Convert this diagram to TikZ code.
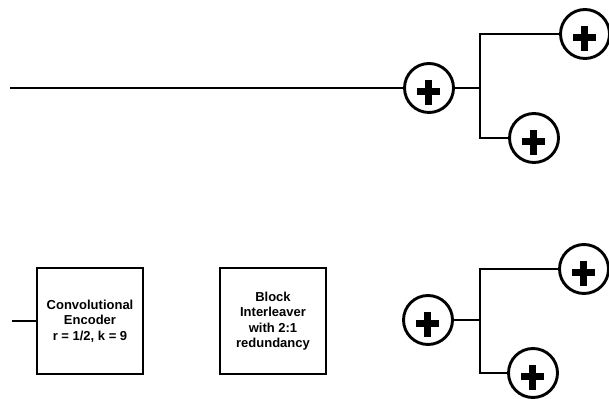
\documentclass[tikz,border=0pt]{standalone}
\usepackage{fontspec}
\setmainfont{Liberation Sans}
\begin{document}
\begin{tikzpicture}[x=1pt,y=1pt,
  wire/.style={line width=2.9pt},
  adder/.style={circle, draw, line width=2.9pt, minimum size=49pt, inner sep=0pt,
    path picture={
      \fill ([xshift=-12.5pt,yshift=-7.5pt]path picture bounding box.center) rectangle ++(23,7);
      \fill ([xshift=-4.5pt,yshift=-17pt]path picture bounding box.center) rectangle ++(7,25);
    }},
  block/.style={draw, line width=2.9pt, minimum width=106pt, minimum height=106pt, inner sep=0pt,
    align=center, font=\bfseries\fontsize{13}{15.3}\selectfont}
]
\useasboundingbox (0,0) rectangle (609,398);
% top group
\coordinate (in1) at (10,310);
\node[adder] (A) at (429,310) {};
\coordinate (J1) at (480,310);
\node[adder] (B) at (585,364) {};
\node[adder] (C) at (534,260) {};
\draw[wire] (in1) -- (A.west);
\draw[wire] (A.east) -- (J1);
\draw[wire] (B.west) -| (J1) |- (C.west);
% bottom group
\coordinate (in2) at (12,77);
\node[block] (enc) at (90,77) {Convolutional\\Encoder\\r = 1/2, k = 9};
\node[block] (int) at (273,77) {Block\\Interleaver\\with 2:1\\redundancy};
\draw[wire] (in2) -- (enc.west);
\node[adder] (D) at (428,78) {};
\coordinate (J2) at (480,78);
\node[adder] (E) at (584,129) {};
\node[adder] (F) at (533,25) {};
\draw[wire] (D.east) -- (J2);
\draw[wire] (E.west) -| (J2) |- (F.west);
\end{tikzpicture}
\end{document}
